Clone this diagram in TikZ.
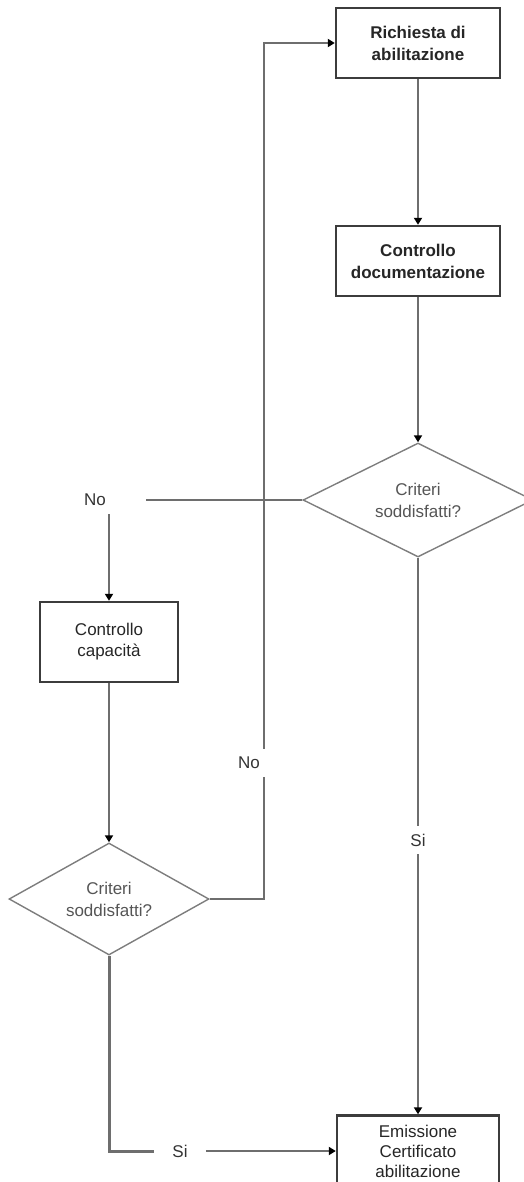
\documentclass[tikz,border=0pt]{standalone}
\usepackage{fontspec}
\setmainfont{Liberation Sans}
\usetikzlibrary{shapes.geometric,arrows.meta}
\definecolor{linegray}{HTML}{6E6E6E}
\definecolor{boxgray}{HTML}{3C3C3C}
\definecolor{textgray}{HTML}{555555}

\begin{document}
\begin{tikzpicture}[x=1pt,y=-1pt,
	box/.style={draw=boxgray,line width=2.4pt,align=center,text=black!85,font=\fontsize{17}{21}\selectfont},
	boldbox/.style={box,minimum width=164pt,minimum height=70pt,font=\fontsize{17}{22}\selectfont\bfseries},
	decision/.style={diamond,draw=linegray!90,line width=1.4pt,inner sep=0pt,aspect=2,align=center,text=textgray,font=\fontsize{17}{22}\selectfont},
	lbl/.style={inner xsep=18pt,inner ysep=8pt,text=black!80,font=\fontsize{17}{22}\selectfont},
	flow/.style={draw=linegray,line width=2pt},
	arr/.style={flow,-{Triangle[length=7pt,width=8pt,color=black]}}]
	\useasboundingbox (0,0) rectangle (524,1182);
	\clip (0,0) rectangle (524,1182);
	% right column
	\node[boldbox] (req) at (418,43) {Richiesta di\\abilitazione};
	\node[boldbox] (doc) at (418,261) {Controllo\\documentazione};
	\node[decision,minimum width=230pt,minimum height=114pt] (crit1) at (418,500) {Criteri\\soddisfatti?};
	\node[box,minimum width=162pt,minimum height=71pt,font=\fontsize{17}{20}\selectfont] (emi) at (418,1151) {Emissione\\Certificato\\abilitazione};
	% left column
	\node[box,minimum width=138pt,minimum height=80pt] (cap) at (109,642) {Controllo\\capacità};
	\node[decision,minimum width=200pt,minimum height=112pt] (crit2) at (109,899) {Criteri\\soddisfatti?};
	% labels
	\node[lbl] (noA) at (95,500) {No};
	\node[lbl] (noB) at (249,763) {No};
	\node[lbl] (siA) at (418,840) {Si};
	\node[lbl] (siB) at (180,1151) {Si};
	% connectors
	\draw[arr] (req.south) -- (doc.north);
	\draw[arr] (doc.south) -- (crit1.north);
	\draw[flow] (crit1.south) -- (siA.north);
	\draw[arr] (siA.south) -- (emi.north);
	\draw[flow,shorten >=22pt] (crit1.west) -- (noA.east);
	\draw[arr] (noA.south -| cap.north) -- (cap.north);
	\draw[arr,line width=2.6pt] (cap.south) -- (crit2.north);
	\draw[flow] (crit2.east) -| ([xshift=15pt]noB.south);
	\draw[arr] ([xshift=15pt]noB.north) |- (req.west);
	\draw[flow,line width=3pt] (crit2.south) |- (siB.west);
	\draw[arr] (siB.east) -- (siB.east -| emi.west);
\end{tikzpicture}
\end{document}
